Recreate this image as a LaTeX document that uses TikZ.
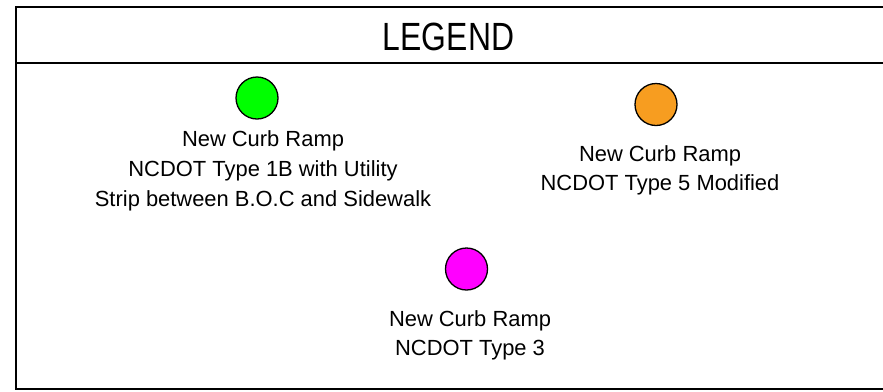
\documentclass[tikz,border=0pt]{standalone}
\usepackage{fontspec}
\setmainfont{Liberation Sans}
\definecolor{rampgreen}{RGB}{0,255,0}
\definecolor{ramporange}{RGB}{247,157,32}
\definecolor{rampmagenta}{RGB}{255,0,255}
\begin{document}
\begin{tikzpicture}[x=1bp,y=-1bp,
  frame/.style={draw=black,line width=2bp},
  dot/.style={circle,draw=black,line width=1.3bp,minimum size=42bp,inner sep=0pt},
  label/.style={align=center,inner sep=0pt,anchor=north,font=\fontsize{22}{30}\selectfont},
  title/.style={inner sep=0pt,anchor=base,font=\fontsize{39.5}{44}\selectfont,xscale=0.81}]
\useasboundingbox (0,0) rectangle (883,391);
\coordinate (tl) at (16,7);
\coordinate (tr) at (890,7);
\coordinate (bl) at (16,389);
\coordinate (br) at (890,389);
\coordinate (sl) at (16,63);
\coordinate (sr) at (890,63);
\draw[frame] (tr) -- (tl) -- (bl) -- (br);
\draw[frame] (sl) -- (sr);
\node[title] (legend) at (448.5,50) {LEGEND};
\node[dot,fill=rampgreen] (g) at (257,98) {};
\node[label] (gt) at (263,130.5) {New Curb Ramp\\NCDOT Type 1B with Utility\\Strip between B.O.C and Sidewalk};
\node[dot,fill=ramporange] (o) at (656,104.5) {};
\node[label] (ot) at (660,145) {New Curb Ramp\\NCDOT Type 5 Modified};
\node[dot,fill=rampmagenta] (m) at (466.5,269) {};
\node[label] (mt) at (470,310) {New Curb Ramp\\NCDOT Type 3};
\end{tikzpicture}
\end{document}
